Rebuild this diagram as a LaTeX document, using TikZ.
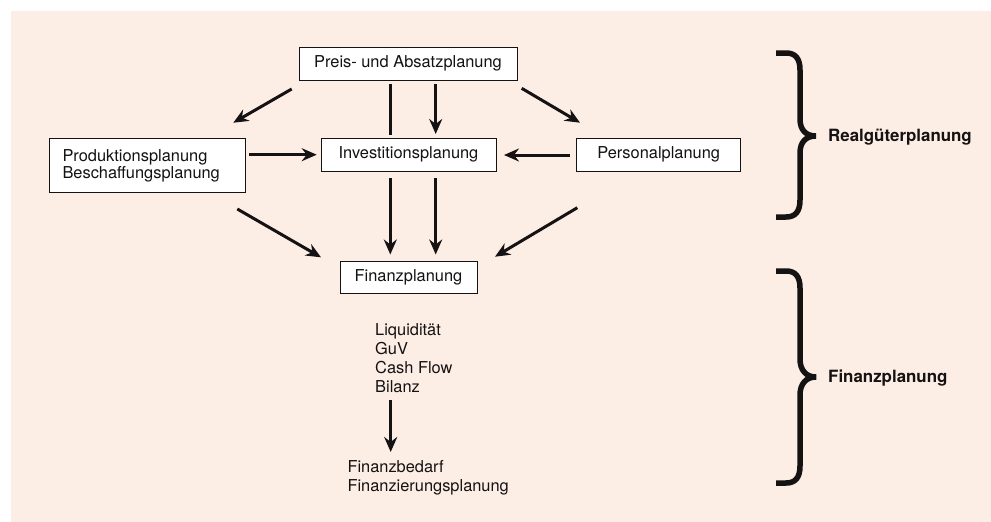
\documentclass[tikz,border=0pt]{standalone}
\usepackage{fontspec}
\setmainfont{TeX Gyre Heros}
\usetikzlibrary{arrows.meta}
\definecolor{bgbeige}{RGB}{253,238,229}
\definecolor{ink}{RGB}{20,18,18}
\tikzset{
  box/.style={draw=ink, line width=1pt, fill=white, inner sep=0pt, text=ink,
    font=\fontsize{16.4}{17}\selectfont},
  arr/.style={draw=ink, line width=3pt, -{Stealth[length=15pt,width=13pt,inset=5pt]}},
  plain/.style={draw=ink, line width=3pt},
  lst/.style={inner sep=0pt, align=left, text=ink, font=\fontsize{16.4}{18.9}\selectfont},
  lbl/.style={inner sep=0pt, text=ink, font=\fontsize{16.9}{19}\selectfont\bfseries},
  brace/.style={draw=ink, line width=5.5pt}
}
\begin{document}
\begin{tikzpicture}[x=1pt,y=-1pt]
\useasboundingbox (0,0) rectangle (991,522);
\fill[bgbeige] (11,11) rectangle (991,522);

% boxes
\node[box, minimum width=218pt, minimum height=33pt] (preis) at (408,63.5) {Preis- und Absatzplanung};
\node[box, minimum width=175pt, minimum height=33pt] (invest) at (408.5,154.5) {Investitionsplanung};
\node[box, minimum width=196pt, minimum height=54pt, text width=170pt, inner xsep=13pt, align=left] (prod) at (147.5,165.5) {Produktionsplanung\\Beschaffungsplanung};
\node[box, minimum width=164pt, minimum height=33pt] (pers) at (658.7,154.7) {Personalplanung};
\node[box, minimum width=137pt, minimum height=32pt] (fin) at (408.5,277) {Finanzplanung};

% text lists
\node[lst, anchor=north west] (kenn) at (375,323.5) {Liquidität\\GuV\\Cash Flow\\Bilanz};
\node[lst, anchor=north west] (bedarf) at (347.3,460) {Finanzbedarf\\Finanzierungsplanung};

% connector end points
\coordinate (pA1) at (291.7,89);   \coordinate (pA2) at (233.3,122.7);
\coordinate (pB1) at (521.7,88.3); \coordinate (pB2) at (580,122.7);
\coordinate (pC1) at (390.3,83.5); \coordinate (pC2) at (390.3,134.5);
\coordinate (pD1) at (435.7,83.5); \coordinate (pD2) at (435.7,134);
\coordinate (pE1) at (249,154.7);  \coordinate (pE2) at (316.7,154.7);
\coordinate (pF1) at (570,155);    \coordinate (pF2) at (504,155);
\coordinate (pG1) at (390.3,178);  \coordinate (pG2) at (390.3,254.5);
\coordinate (pH1) at (435.7,178);  \coordinate (pH2) at (435.7,254.5);
\coordinate (pI1) at (237.3,209);  \coordinate (pI2) at (321,257.3);
\coordinate (pJ1) at (577.3,207.7);\coordinate (pJ2) at (495,256.7);
\coordinate (pK1) at (390.7,400);  \coordinate (pK2) at (390.7,452);

\draw[arr] (pA1) -- (pA2);
\draw[arr] (pB1) -- (pB2);
\draw[plain] (pC1) -- (pC2);
\draw[arr] (pD1) -- (pD2);
\draw[arr] (pE1) -- (pE2);
\draw[arr] (pF1) -- (pF2);
\draw[arr] (pG1) -- (pG2);
\draw[arr] (pH1) -- (pH2);
\draw[arr] (pI1) -- (pI2);
\draw[arr] (pJ1) -- (pJ2);
\draw[arr] (pK1) -- (pK2);

% braces
\draw[brace] (776,53) -- (786,53) .. controls (795,53) and (800,58) .. (800,70)
  -- (800,119) .. controls (800,130) and (806,136) .. (816,136)
  .. controls (806,136) and (800,142) .. (800,153)
  -- (800,200) .. controls (800,212) and (795,217) .. (786,217) -- (776,217);
\draw[brace] (776,271) -- (786,271) .. controls (795,271) and (800,276) .. (800,288)
  -- (800,359) .. controls (800,370) and (806,377) .. (816,377)
  .. controls (806,377) and (800,384) .. (800,395)
  -- (800,466) .. controls (800,478) and (795,483) .. (786,483) -- (776,483);

\node[lbl, anchor=west] (real) at (828,136.7) {Realgüterplanung};
\node[lbl, anchor=west] (finl) at (828,378) {Finanzplanung};
\end{tikzpicture}
\end{document}
